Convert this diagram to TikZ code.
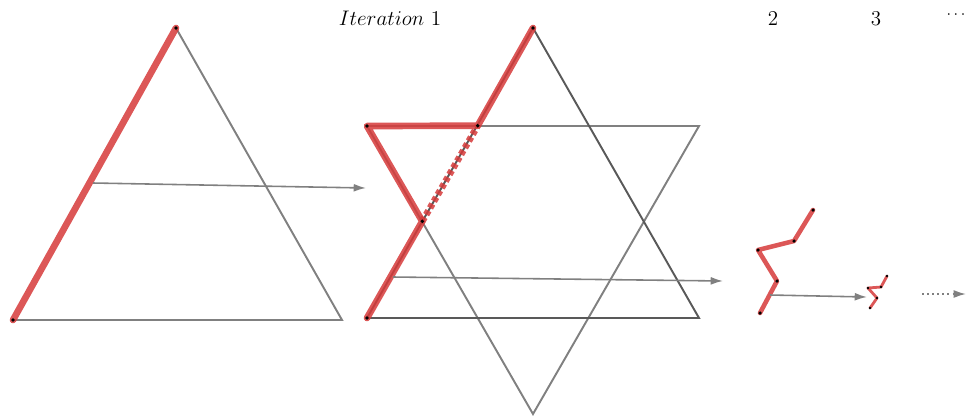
\documentclass[tikz,border=0pt]{standalone}
\usetikzlibrary{arrows.meta}
\definecolor{kred}{RGB}{214,58,58}
\begin{document}
\begin{tikzpicture}[x=0.02cm,y=-0.02cm,
  lightedge/.style={draw=black!50, line width=1.1pt},
  darkedge/.style={draw=black!65, line width=1.1pt},
  kochline/.style={draw=kred, line width=3.8pt, opacity=0.85, line join=round, line cap=round},
  kochthin/.style={draw=kred, line width=2.6pt, opacity=0.85, line join=round, line cap=round},
  kochdash/.style={draw=kred, line width=3.8pt, opacity=0.85, dash pattern=on 2.6pt off 1.8pt},
  vdot/.style={fill=black, draw=none},
  flow/.style={draw=black!50, line width=0.9pt, -{Latex[length=7pt,width=4.5pt]}},
  dotflow/.style={draw=black!50, line width=0.9pt, dotted, -{Latex[length=7pt,width=4.5pt]}},
  lbl/.style={inner sep=0pt, font=\fontsize{11.5}{13}\selectfont}]
\useasboundingbox (0,0) rectangle (967,417);
% left triangle
\coordinate (L1) at (176,28);
\coordinate (L2) at (13,320);
\coordinate (L3) at (342,320);
\draw[lightedge] (L1) -- (L3) -- (L2);
\draw[kochline] (L2) -- (L1);
\foreach \p in {L1,L2} \fill[vdot] (\p) circle[radius=1.1pt];
% star
\coordinate (U1) at (533,28);
\coordinate (U2) at (367,318);
\coordinate (U3) at (699,318);
\coordinate (D1) at (367,126);
\coordinate (D2) at (699,126);
\coordinate (D3) at (533,414);
\draw[lightedge] (D1) -- (D2) -- (D3) -- cycle;
\draw[darkedge] (U1) -- (U2) -- (U3) -- cycle;
\coordinate (K0) at (367,318);
\coordinate (K1) at (422.3,221.3);
\coordinate (K2) at (367,126);
\coordinate (K3) at (477.7,125.7);
\coordinate (K4) at (533,28);
\draw[kochdash] (K1) -- (K3);
\draw[kochline] (K0) -- (K1) -- (K2) -- (K3) -- (K4);
\foreach \p in {K0,K1,K2,K3,K4} \fill[vdot] (\p) circle[radius=1.1pt];
% iteration 2
\coordinate (P0) at (760,313);
\coordinate (P1) at (777,281);
\coordinate (P2) at (758,250);
\coordinate (P3) at (794,241);
\coordinate (P4) at (813,210);
\draw[kochthin] (P0) -- (P1) -- (P2) -- (P3) -- (P4);
\foreach \p in {P0,P1,P2,P3,P4} \fill[vdot] (\p) circle[radius=1pt];
% iteration 3
\coordinate (Q0) at (870,308);
\coordinate (Q1) at (877,298);
\coordinate (Q2) at (868,288);
\coordinate (Q3) at (881,287);
\coordinate (Q4) at (887,276);
\draw[kochthin, line width=1.6pt] (Q0) -- (Q1) -- (Q2) -- (Q3) -- (Q4);
\foreach \p in {Q0,Q1,Q2,Q3,Q4} \fill[vdot] (\p) circle[radius=0.8pt];
% arrows
\coordinate (a1s) at (93,183);
\coordinate (a1e) at (366,188);
\coordinate (a2s) at (393,277);
\coordinate (a2e) at (723,281);
\coordinate (a3s) at (770,295);
\coordinate (a3e) at (867,297);
\coordinate (a4s) at (922,294);
\coordinate (a4e) at (966,294);
\draw[flow] (a1s) -- (a1e);
\draw[flow] (a2s) -- (a2e);
\draw[flow] (a3s) -- (a3e);
\draw[dotflow] (a4s) -- (a4e);
% labels
\node[lbl] (t1) at (390,18) {$Iteration~1$};
\node[lbl] (t2) at (773,19) {$2$};
\node[lbl] (t3) at (876,19) {$3$};
\node[lbl, font=\fontsize{9.5}{10}\selectfont] (t4) at (956,15) {$\cdots$};
\end{tikzpicture}
\end{document}
